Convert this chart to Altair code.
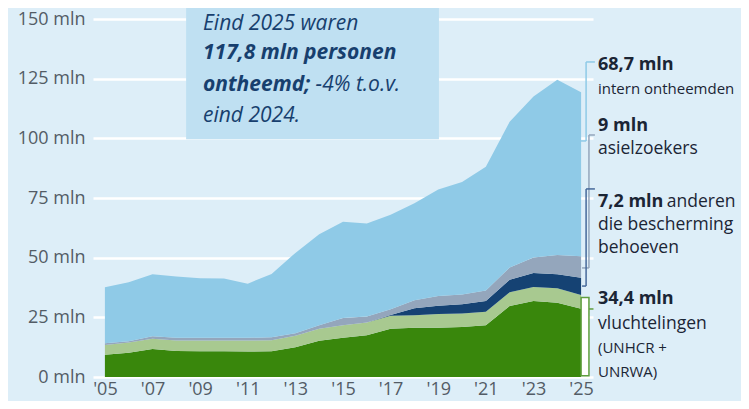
import altair as alt
import pandas as pd

# ---------------- data (mln) ----------------
years = list(range(2005, 2026))
vluchtelingen_unhcr = [9.3, 10.2, 11.7, 10.9, 10.8, 10.8, 10.7, 10.8, 12.5, 15.2, 16.4,
                       17.5, 20.2, 20.6, 20.6, 20.9, 21.7, 29.8, 31.8, 31.1, 28.6]
vluchtelingen_unrwa = [4.1, 4.3, 4.3, 4.4, 4.5, 4.5, 4.6, 4.6, 4.8, 5.0, 5.3,
                       5.3, 5.5, 5.3, 5.8, 5.7, 5.6, 5.7, 5.9, 6.1, 5.8]
anderen = [0, 0, 0, 0, 0, 0, 0, 0, 0, 0, 0,
           0, 0.3, 2.9, 3.5, 3.9, 4.5, 5.2, 5.9, 5.8, 7.2]
asielzoekers = [0.7, 0.5, 1.1, 1.1, 1.1, 1.1, 1.1, 1.3, 1.0, 1.5, 3.0,
                2.6, 2.4, 3.4, 4.0, 4.1, 4.4, 5.2, 6.5, 8.1, 9.0]
intern_ontheemden = [23.5, 24.7, 25.9, 25.7, 25.0, 24.9, 22.7, 26.5, 33.7, 38.1, 40.3,
                     38.9, 39.6, 40.6, 44.7, 47.1, 51.9, 61.1, 67.4, 73.4, 68.7]

series_names = ["vluchtelingen UNHCR", "vluchtelingen UNRWA", "anderen", "asielzoekers", "intern ontheemden"]
series_values = [vluchtelingen_unhcr, vluchtelingen_unrwa, anderen, asielzoekers, intern_ontheemden]
series_colors = ["#39870c", "#a8c990", "#154273", "#94a6bc", "#8fcae7"]

y_ticks = [0, 25, 50, 75, 100, 125, 150]
x_ticks = years[::2]

BG = "#ddeef8"
BOX = "#bfe0f2"
BOXTEXT = "#173f6e"
TXT = "#1b2535"
AXISTXT = "#535c66"
FONT = "Open Sans"

rows = []
for i, yr in enumerate(years):
    base = 0.0
    for k, (name, vals) in enumerate(zip(series_names, series_values)):
        rows.append(dict(year=yr, serie=name, lo=base, hi=base + vals[i], k=k))
        base += vals[i]
df = pd.DataFrame(rows)

xscale = alt.Scale(domain=[2004.5, 2025.5], nice=False, zero=False)
yscale = alt.Scale(domain=[0, 150], nice=False)

areas = alt.Chart(df).mark_area(interpolate="linear").encode(
    x=alt.X("year:Q", scale=xscale, title=None,
            axis=alt.Axis(values=x_ticks, labelExpr="\"'\" + slice(toString(datum.value), 2)",
                          grid=False, domain=False, ticks=False, tickSize=0, labelPadding=3,
                          labelFontSize=18, labelColor=AXISTXT, labelFont=FONT,
                          labelBaseline="top", labelAlign="center", labelOverlap=False)),
    y=alt.Y("hi:Q", scale=yscale, title=None, stack=None,
            axis=alt.Axis(values=y_ticks, labelExpr="datum.value + ' mln'", grid=True,
                          gridColor="white", gridWidth=2.5, domain=False, ticks=False,
                          tickSize=0, labelPadding=8, labelFontSize=18, labelColor=AXISTXT,
                          labelFont=FONT, labelBaseline="middle", labelAlign="right")),
    y2="lo:Q",
    color=alt.Color("serie:N", scale=alt.Scale(domain=series_names, range=series_colors), legend=None),
    order="k:Q",
)

# ---------------- text box ----------------
box_df = pd.DataFrame([dict(x=2008.41, x2=2019.03, y=99.6, y2=158)])
box = alt.Chart(box_df).mark_rect(color=BOX).encode(
    x=alt.X("x:Q", scale=xscale), x2="x2", y=alt.Y("y:Q", scale=yscale), y2="y2")

box_regular = pd.DataFrame([
    dict(x=2009.12, y=148.0, t="Eind 2025 waren"),
    dict(x=2013.85, y=122.5, t="-4% t.o.v."),
    dict(x=2009.12, y=109.2, t="eind 2024."),
])
box_bold = pd.DataFrame([
    dict(x=2009.12, y=135.6, t="117,8 mln personen"),
    dict(x=2009.12, y=122.5, t="ontheemd;"),
])


def text_layer(d, size, weight="normal", style="normal", color=TXT):
    return alt.Chart(d).mark_text(align="left", baseline="middle", font=FONT, fontSize=size,
                                  fontWeight=weight, fontStyle=style, color=color).encode(
        x=alt.X("x:Q", scale=xscale), y=alt.Y("y:Q", scale=yscale), text="t:N")


t_box1 = text_layer(box_regular, 21, "normal", "italic", BOXTEXT)
t_box2 = text_layer(box_bold, 21, "bold", "italic", BOXTEXT)

# ---------------- right annotations ----------------
ann_bold = pd.DataFrame([
    dict(x=2025.71, y=130.7, t="68,7 mln"),
    dict(x=2025.71, y=105.2, t="9 mln"),
    dict(x=2025.71, y=73.3, t="7,2 mln"),
    dict(x=2025.71, y=32.5, t="34,4 mln"),
])
ann_small = pd.DataFrame([
    dict(x=2025.71, y=120.7, t="intern ontheemden"),
])
ann_reg = pd.DataFrame([
    dict(x=2025.71, y=95.5, t="asielzoekers"),
    dict(x=2028.6, y=73.3, t="anderen"),
    dict(x=2025.71, y=63.7, t="die bescherming"),
    dict(x=2025.71, y=54.1, t="behoeven"),
    dict(x=2025.71, y=22.4, t="vluchtelingen"),
])
ann_xs = pd.DataFrame([
    dict(x=2025.71, y=12.2, t="(UNHCR +"),
    dict(x=2025.71, y=2.2, t="UNRWA)"),
])
t_a1 = text_layer(ann_bold, 18, "bold")
t_a2 = text_layer(ann_small, 15)
t_a3 = text_layer(ann_reg, 17.5)
t_a4 = text_layer(ann_xs, 15)

# ---------------- brackets ----------------
seg = pd.DataFrame([
    dict(x=2025.21, x2=2025.58, y=132.0, y2=132.0, c="#8fcae7"),
    dict(x=2025.21, x2=2025.21, y=132.0, y2=98.9, c="#8fcae7"),
    dict(x=2024.95, x2=2025.21, y=98.9, y2=98.9, c="#8fcae7"),
    dict(x=2025.33, x2=2025.58, y=101.4, y2=101.4, c="#94a6bc"),
    dict(x=2025.33, x2=2025.33, y=101.4, y2=45.7, c="#94a6bc"),
    dict(x=2025.04, x2=2025.33, y=45.7, y2=45.7, c="#94a6bc"),
    dict(x=2025.21, x2=2025.58, y=78.8, y2=78.8, c="#46699a"),
    dict(x=2025.21, x2=2025.21, y=78.8, y2=38.1, c="#46699a"),
    dict(x=2025.04, x2=2025.21, y=38.1, y2=38.1, c="#46699a"),
    dict(x=2025.33, x2=2025.52, y=28.5, y2=28.5, c="#5f9e3f"),
])
brackets = alt.Chart(seg).mark_rule(strokeWidth=1.5).encode(
    x=alt.X("x:Q", scale=xscale), x2="x2", y=alt.Y("y:Q", scale=yscale), y2="y2",
    color=alt.Color("c:N", scale=None))

gbox_df = pd.DataFrame([dict(x=2025.0, x2=2025.33, y=0.5, y2=33.3)])
gbox = alt.Chart(gbox_df).mark_rect(fill="white", stroke="#5f9e3f", strokeWidth=1.5).encode(
    x=alt.X("x:Q", scale=xscale), x2="x2", y=alt.Y("y:Q", scale=yscale), y2="y2")

chart = alt.layer(areas, box, gbox, brackets, t_box1, t_box2, t_a1, t_a2, t_a3, t_a4).properties(
    width=500, height=358,
    autosize=alt.AutoSizeParams(type="none"),
    padding={"left": 85, "top": 11, "right": 148, "bottom": 24},
    background=BG,
).configure_view(stroke=None)

chart.save("out.html", embed_options={"renderer": "svg", "actions": False})
